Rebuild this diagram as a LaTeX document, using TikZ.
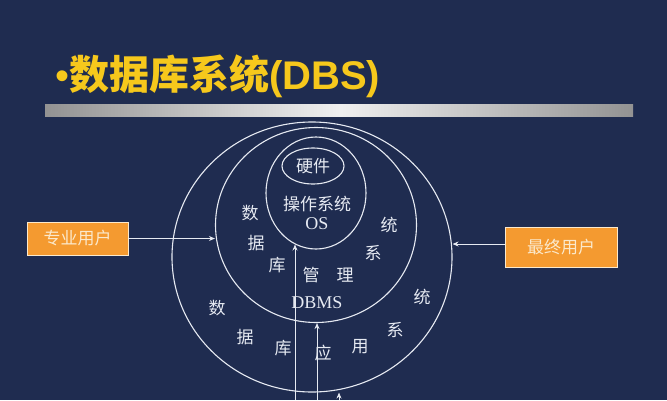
\documentclass[tikz,border=0pt]{standalone}
\usepackage{fontspec}
\setmainfont{Liberation Serif}
\newfontfamily\cjk{Noto Sans CJK SC}
\newfontfamily\tsans{Liberation Sans}
\usetikzlibrary{shapes.geometric,arrows.meta}
\definecolor{bg}{HTML}{1F2C50}
\definecolor{ttl}{HTML}{F6C81C}
\definecolor{boxc}{HTML}{F49A30}
\definecolor{boxtxt}{HTML}{FBE9CC}
\definecolor{ln}{HTML}{E6EAF2}

\begin{document}
\begin{tikzpicture}[x=1pt,y=-1pt,
  ring/.style={ellipse, draw=ln, line width=1.1pt, inner sep=0pt},
  ch/.style={text=ln, font=\cjk\fontsize{17}{17}\selectfont, inner sep=0pt},
  lat/.style={text=ln, font=\fontsize{18}{18}\selectfont, inner sep=0pt},
  user/.style={draw=boxtxt, fill=boxc, line width=0.8pt, text=boxtxt,
    font=\cjk\fontsize{17}{17}\selectfont, inner sep=0pt},
  arr/.style={draw=ln, line width=1pt, -{Stealth[length=6pt,width=5pt]}}]

\fill[bg] (0,0) rectangle (667,400);
\useasboundingbox (0,0) rectangle (667,400);

% title and bar
\node[anchor=base west, inner sep=0pt, text=ttl] (T) at (55,89)
  {\fontsize{40}{40}\selectfont{\tsans •}{\cjk\bfseries 数据库系统}{\tsans\bfseries (DBS)}};
\shade[left color=gray!85, right color=gray!85, middle color=gray!12]
  (45,104) rectangle (633,116);

% rings
\node[ring, minimum width=280pt, minimum height=270pt] (A) at (312,257) {};
\node[ring, minimum width=201pt, minimum height=195pt] (M) at (316,225) {};
\node[ring, minimum width=100pt, minimum height=112pt] (O) at (316,193) {};
\node[ring, minimum width=62pt, minimum height=36pt, ch] (H) at (313,166) {硬件};

\node[ch] (O1) at (317,204) {操作系统};
\node[lat] (O2) at (317,224) {OS};
\node[lat] (D) at (317,303) {DBMS};

\foreach \t/\x/\y [count=\i] in {数/250/213, 据/256/243, 库/277/265, 管/311/275,
    理/345/275, 系/373/253, 统/389/225}
  \node[ch] (m\i) at (\x,\y) {\t};
\foreach \t/\x/\y [count=\i] in {数/217/308, 据/245/337, 库/283/348, 应/323/353,
    用/360/347, 系/395/330, 统/422/297}
  \node[ch] (a\i) at (\x,\y) {\t};

% users
\node[user, minimum width=101pt, minimum height=33pt] (L) at (77.5,238.5) {专业用户};
\node[user, minimum width=112pt, minimum height=40pt] (R) at (561,247) {最终用户};

\draw[arr] (L.east) -- (L.east -| M.west);
\draw[arr] ([yshift=3pt]R.west) -- ([yshift=3pt]R.west -| A.east);

% from below
\coordinate (b1) at (295,400);
\coordinate (b2) at (317,400);
\coordinate (b3) at (339,400);
\draw[arr] (b1) -- (b1 |- O.-112);
\draw[arr] (b2) -- (b2 |- M.south);
\draw[arr] (b3) -- (b3 |- A.south);

\end{tikzpicture}
\end{document}
